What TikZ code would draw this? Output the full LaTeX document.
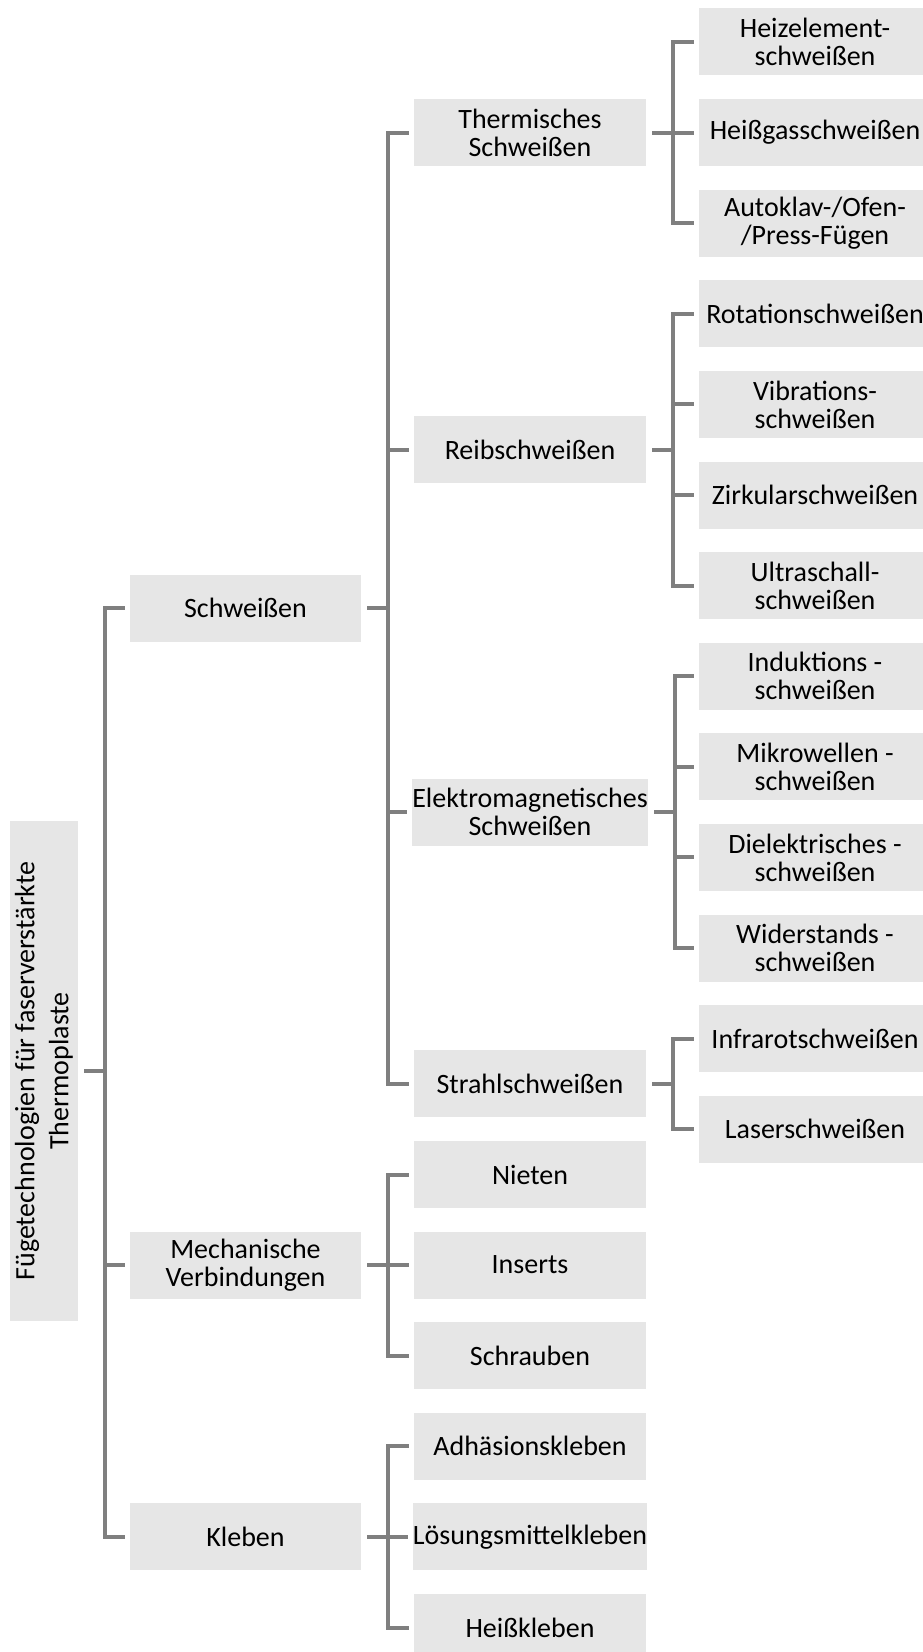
\documentclass[tikz,border=0pt]{standalone}
\usepackage{fontspec}
\setmainfont{Carlito}
\definecolor{boxgray}{RGB}{230,230,230}
\definecolor{linegray}{RGB}{127,127,127}

\begin{document}
\begin{tikzpicture}[x=0.5pt, y=-0.5pt,
  box/.style={fill=boxgray, inner sep=0pt, align=center, minimum width=116pt, minimum height=33.5pt, font=\fontsize{14pt}{14pt}\selectfont},
  conn/.style={draw=linegray, line width=2pt}]
\useasboundingbox (0,0) rectangle (922,1652);

% root
\node[box, rotate=90, minimum width=250pt, minimum height=34pt, font=\fontsize{14pt}{17pt}\selectfont] (root) at (44,1071) {F\"ugetechnologien f\"ur faserverst\"arkte\\Thermoplaste};

% level 1
\node[box, minimum width=115.5pt] (weld) at (245.5,608.25) {Schwei\ss en};
\node[box, minimum width=115.5pt] (mech) at (245.5,1265.1) {Mechanische\\Verbindungen};
\node[box, minimum width=115.5pt] (glue) at (245.5,1536.9) {Kleben};

% level 2
\node[box] (thermal)  at (530,132.6)  {Thermisches\\Schwei\ss en};
\node[box] (friction) at (530,449.7)  {Reibschwei\ss en};
\node[box] (em)       at (530,812.1)  {Elektromagnetisches\\Schwei\ss en};
\node[box] (beam)     at (530,1083.9) {Strahlschwei\ss en};
\node[box] (rivet)    at (530,1174.5) {Nieten};
\node[box] (insert)   at (530,1265.1) {Inserts};
\node[box] (screw)    at (530,1355.7) {Schrauben};
\node[box] (adhesion) at (530,1446.3) {Adh\"asionskleben};
\node[box] (solvent)  at (530,1536.9) {L\"osungsmittelkleben};
\node[box] (hotmelt)  at (530,1627.5) {Hei\ss kleben};

% level 3
\node[box] (hotplate)   at (815,42)     {Heizelement-\\schwei\ss en};
\node[box] (hotgas)     at (815,132.6)  {Hei\ss gasschwei\ss en};
\node[box] (autoclave)  at (815,223.2)  {Autoklav-/Ofen-\\/Press-F\"ugen};
\node[box] (spin)       at (815,313.8)  {Rotationschwei\ss en};
\node[box] (vibration)  at (815,404.4)  {Vibrations-\\schwei\ss en};
\node[box] (orbital)    at (815,495)    {Zirkularschwei\ss en};
\node[box] (ultrasonic) at (815,585.6)  {Ultraschall-\\schwei\ss en};
\node[box] (induction)  at (815,676.2)  {Induktions -\\schwei\ss en};
\node[box] (microwave)  at (815,766.8)  {Mikrowellen -\\schwei\ss en};
\node[box] (dielectric) at (815,857.4)  {Dielektrisches -\\schwei\ss en};
\node[box] (resistance) at (815,948)    {Widerstands -\\schwei\ss en};
\node[box] (infrared)   at (815,1038.6) {Infrarotschwei\ss en};
\node[box] (laser)      at (815,1129.2) {Laserschwei\ss en};

% brackets
\foreach \c in {weld,mech,glue}
  \draw[conn] ([xshift=3pt]root.south) -- ++(10.5pt,0) |- ([xshift=-2.5pt]\c.west);
\foreach \c in {thermal,friction,em,beam}
  \draw[conn] ([xshift=3pt]weld.east) -- ++(10.5pt,0) |- ([xshift=-2.5pt]\c.west);
\foreach \c in {rivet,insert,screw}
  \draw[conn] ([xshift=3pt]mech.east) -- ++(10.5pt,0) |- ([xshift=-2.5pt]\c.west);
\foreach \c in {adhesion,solvent,hotmelt}
  \draw[conn] ([xshift=3pt]glue.east) -- ++(10.5pt,0) |- ([xshift=-2.5pt]\c.west);
\foreach \c in {hotplate,hotgas,autoclave}
  \draw[conn] ([xshift=3pt]thermal.east) -- ++(10.5pt,0) |- ([xshift=-2.5pt]\c.west);
\foreach \c in {spin,vibration,orbital,ultrasonic}
  \draw[conn] ([xshift=3pt]friction.east) -- ++(10.5pt,0) |- ([xshift=-2.5pt]\c.west);
\foreach \c in {induction,microwave,dielectric,resistance}
  \draw[conn] ([xshift=3pt]em.east) -- ++(10.5pt,0) |- ([xshift=-2.5pt]\c.west);
\foreach \c in {infrared,laser}
  \draw[conn] ([xshift=3pt]beam.east) -- ++(10.5pt,0) |- ([xshift=-2.5pt]\c.west);
\end{tikzpicture}
\end{document}
